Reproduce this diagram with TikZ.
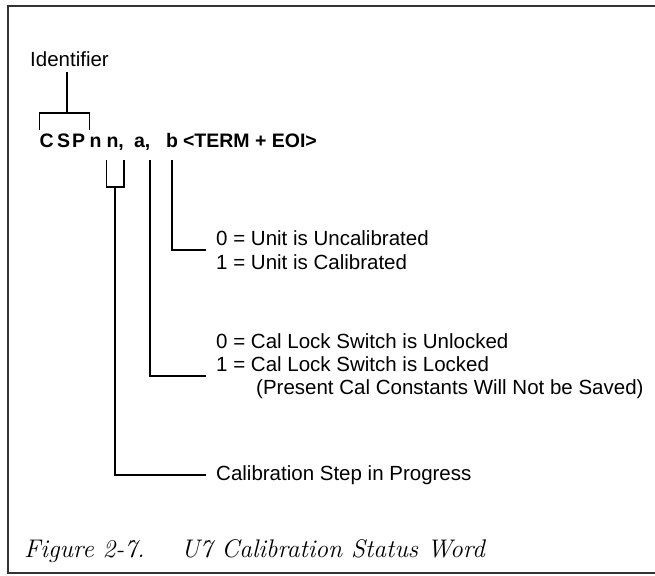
\documentclass[tikz,border=0pt]{standalone}
\usepackage{fontspec}
\newfontfamily\labelfont{Liberation Sans}
\begin{document}
\begin{tikzpicture}[x=1pt, y=-1pt,
  code/.style={font=\labelfont\bfseries\fontsize{19.5pt}{24pt}\selectfont, anchor=base west, inner sep=0pt, outer sep=0pt, outer ysep=3pt, text height=14pt, text depth=10pt},
  lbl/.style={font=\labelfont\fontsize{20.5pt}{24pt}\selectfont, anchor=base west, inner xsep=10.5pt, inner ysep=0pt, text depth=5pt},
  caption/.style={font=\itshape\fontsize{25.5pt}{30pt}\selectfont, anchor=base west, inner sep=0pt},
  wire/.style={line width=1.6pt}]
\useasboundingbox (0,0) rectangle (655,575);
\draw[line width=2.2pt, black!80] (655,6) -- (8,6) -- (8,573) -- (655,573);

\node[lbl] (ident) at (19.5,67) {Identifier};

\node[code] (c) at (39.5,147) {C};
\node[code] (s) at (57,147) {S};
\node[code] (p) at (72,147) {P};
\node[code] (n1) at (89.5,147) {n};
\node[code] (n2) at (106.5,147) {n,};
\node[code] (a) at (134,147) {a,};
\node[code] (b) at (166,147) {b};
\node[code] (term) at (183,147) {<TERM + EOI>};

\node[lbl] (unit0) at (205.5,245) {0 = Unit is Uncalibrated};
\node[lbl] (unit1) at (205.5,269) {1 = Unit is Calibrated};
\node[lbl] (lock0) at (205.5,348) {0 = Cal Lock Switch is Unlocked};
\node[lbl] (lock1) at (205.5,371) {1 = Cal Lock Switch is Locked};
\node[lbl] (lock2) at (245.5,394) {(Present Cal Constants Will Not be Saved)};
\node[lbl] (stepno) at (205.5,480) {Calibration Step in Progress};

\node[caption] (figno) at (24,557) {Figure 2-7.};
\node[caption] (figtitle) at (181,557) {U7 Calibration Status Word};

\coordinate (idmid) at (67,113);
\draw[wire] (c.north west) |- (idmid) -| (n1.north west);
\draw[wire] (idmid) -- (idmid |- ident.south);

\coordinate (nnmid) at ([yshift=-27pt]n2.south);
\draw[wire] (n2.south west) |- (nnmid) -| (n2.south east);
\draw[wire] (nnmid) |- (stepno.west);
\draw[wire] (a.south east) |- (lock1.south west);
\draw[wire] (b.south) |- (unit0.south west);
\end{tikzpicture}
\end{document}
